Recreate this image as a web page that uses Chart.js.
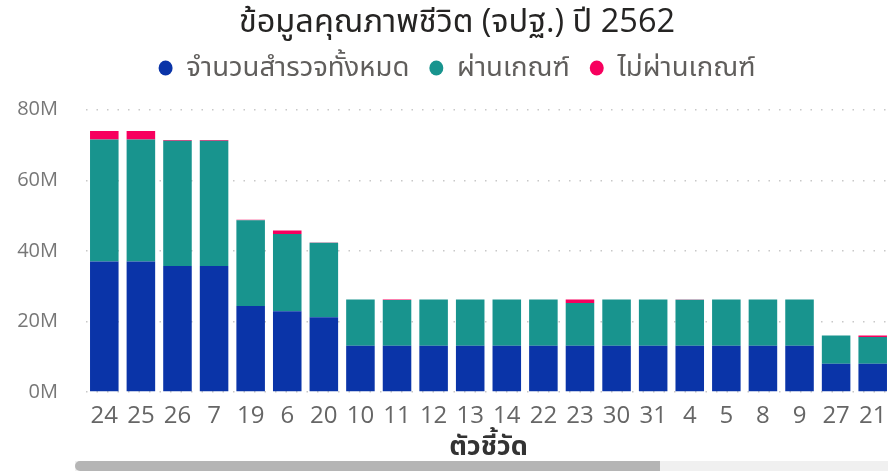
<!DOCTYPE html>
<html>
<head>
<meta charset="utf-8">
<script src="https://cdn.jsdelivr.net/npm/chart.js@4"></script>
<style>
    html, body { margin: 0; padding: 0; background: #fff; }
    #wrap { position: relative; width: 888px; height: 472px; overflow: hidden; }
    #chart-box { position: absolute; left: 0; top: 0; width: 914px; height: 466px; }
    #scroll-track { position: absolute; left: 75px; top: 461px; width: 813px; height: 10px; background: #f0f0f0; }
    #scroll-thumb { position: absolute; left: 75px; top: 461px; width: 585px; height: 10px; background: #b5b5b5; border-radius: 5px 0 0 5px; }
</style>
</head>
<body>
<div id="wrap">
    <div id="chart-box"><canvas id="qolChart"></canvas></div>
    <div id="scroll-track"></div>
    <div id="scroll-thumb"></div>
</div>
<script>
/* ---------- ข้อมูล (ล้านครัวเรือน) ---------- */
const indicators = ['24', '25', '26', '7', '19', '6', '20', '10', '11', '12', '13', '14', '22', '23', '30', '31', '4', '5', '8', '9', '27', '21'];
const surveyedTotal = [37.0, 37.0, 35.7, 35.7, 24.4, 22.9, 21.2, 13.1, 13.1, 13.1, 13.1, 13.1, 13.1, 13.1, 13.1, 13.1, 13.1, 13.1, 13.1, 13.1, 8.0, 8.0];
const passed = [34.6, 34.6, 35.5, 35.5, 24.3, 21.9, 21.1, 13.1, 13.0, 13.1, 13.1, 13.1, 13.1, 12.1, 13.1, 13.1, 13.05, 13.1, 13.1, 13.1, 8.0, 7.6];
const failed = [2.4, 2.4, 0.2, 0.2, 0.1, 1.0, 0.1, 0.0, 0.1, 0.0, 0.0, 0.0, 0.0, 1.0, 0.0, 0.0, 0.05, 0.0, 0.0, 0.0, 0.0, 0.4];
const yTicks = [0, 20, 40, 60, 80];

const FONT = "'Open Sans', 'Noto Sans Thai', 'Noto Sans', sans-serif";

// เว้นที่ใต้ legend ให้พื้นที่กราฟเริ่มตรงกับต้นฉบับ และเลื่อนหัวเรื่อง/legend ไปกึ่งกลาง
const headerTweak = {
    id: 'headerTweak',
    beforeInit(chart) {
        const origFit = chart.legend.fit;
        chart.legend.fit = function () {
            origFit.call(this);
            this.height += 18;
        };
    },
    afterLayout(chart) {
        [chart.titleBlock, chart.legend].forEach(box => {
            if (!box) return;
            box.left += 10.5;
            box.right += 10.5;
        });
    }
};

document.addEventListener('DOMContentLoaded', () => {
    const ctx = document.getElementById('qolChart').getContext('2d');
    new Chart(ctx, {
        type: 'bar',
        data: {
            labels: indicators,
            datasets: [
                { label: 'จำนวนสำรวจทั้งหมด', data: surveyedTotal, backgroundColor: '#0A34A8' },
                { label: 'ผ่านเกณฑ์', data: passed, backgroundColor: '#18948E' },
                { label: 'ไม่ผ่านเกณฑ์', data: failed, backgroundColor: '#F7005E' }
            ]
        },
        plugins: [headerTweak],
        options: {
            responsive: true,
            maintainAspectRatio: false,
            animation: false,
            datasets: { bar: { categoryPercentage: 1, barPercentage: 0.78 } },
            layout: { padding: { left: 2, right: 23, top: 0, bottom: 0 } },
            plugins: {
                tooltip: { enabled: false },
                title: {
                    display: true,
                    text: 'ข้อมูลคุณภาพชีวิต (จปฐ.) ปี 2562',
                    color: '#252423',
                    font: { family: FONT, size: 32.5, weight: 'normal' },
                    padding: { top: 3, bottom: -7.75 }
                },
                legend: {
                    position: 'top',
                    labels: {
                        usePointStyle: true,
                        pointStyle: 'circle',
                        pointStyleWidth: 14,
                        boxWidth: 14,
                        boxHeight: 10.6,
                        padding: 20,
                        color: '#605E5C',
                        font: { family: FONT, size: 27.5 }
                    }
                }
            },
            scales: {
                x: {
                    stacked: true,
                    afterFit: (scale) => { scale.height = 74; },
                    grid: { display: false },
                    border: { display: false },
                    ticks: { color: '#666', font: { family: FONT, size: 24 }, maxRotation: 0, autoSkip: false, padding: 2 },
                    title: {
                        display: true,
                        text: 'ตัวชี้วัด',
                        color: '#333',
                        font: { family: FONT, size: 27, weight: 'bold' },
                        padding: { top: 0, bottom: 2 }
                    }
                },
                y: {
                    stacked: true,
                    min: 0,
                    max: 80,
                    afterBuildTicks: (scale) => { scale.ticks = yTicks.map(v => ({ value: v })); },
                    afterFit: (scale) => { scale.width = 84; },
                    grid: { color: '#c8c8c8', lineWidth: 1.5, drawTicks: false },
                    border: { display: false, dash: [1.5, 9] },
                    ticks: { color: '#777', font: { family: FONT, size: 20 }, padding: 28, callback: v => v + 'M' }
                }
            }
        }
    });
});
</script>
</body>
</html>
